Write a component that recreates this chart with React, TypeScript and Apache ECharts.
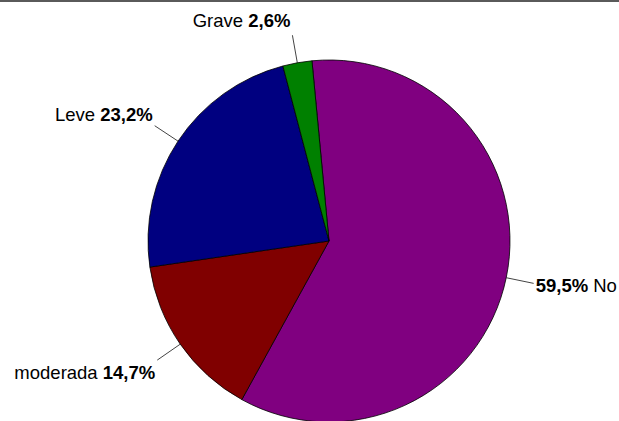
import React, { useEffect, useRef } from "react";
import * as echarts from "echarts";

const categories = ["No", "moderada", "Leve", "Grave"];
const values = [59.5, 14.7, 23.2, 2.6];
const colors = ["#800080", "#800000", "#000080", "#008000"];
// label padding to shift text relative to label-line end [top, right, bottom, left]
const labelPads = [
  [5, 0, 0, 0],
  [24, 0, 0, 0],
  [0, 0, 22, 0],
  [0, 0, 30, 0],
];

const fmt = (v: number) => v.toFixed(1).replace(".", ",") + "%";
const FONT = "Liberation Sans, Arial, sans-serif";
const FS = 18.5;

export default function App() {
  const ref = useRef<HTMLDivElement>(null);
  useEffect(() => {
    if (!ref.current) return;
    const chart = echarts.init(ref.current, null, { renderer: "svg" });
    const data = categories.map((name, i) => ({
      name,
      value: values[i],
      itemStyle: { color: colors[i] },
      label: {
        padding: labelPads[i],
        formatter:
          i === 0
            ? `{b|${fmt(values[i])}} {n|${name}}`
            : `{n|${name}} {b|${fmt(values[i])}}`,
      },
    }));
    chart.setOption({
      animation: false,
      backgroundColor: "#ffffff",
      graphic: [
        {
          type: "rect",
          left: 0,
          top: 0,
          shape: { width: 619, height: 2 },
          style: { fill: "#5a5a5a" },
          silent: true,
        },
      ],
      series: [
        {
          type: "pie",
          center: [329, 241],
          radius: 181,
          startAngle: 95.4,
          clockwise: true,
          avoidLabelOverlap: false,
          data,
          itemStyle: { borderColor: "#000000", borderWidth: 0.8 },
          label: {
            show: true,
            position: "outside",
            distanceToLabelLine: 2,
            color: "#000000",
            fontFamily: FONT,
            fontSize: FS,
            rich: {
              n: { fontFamily: FONT, fontSize: FS, color: "#000000" },
              b: {
                fontFamily: FONT,
                fontSize: FS,
                fontWeight: "bold",
                color: "#000000",
              },
            },
          },
          labelLine: {
            show: true,
            length: 28,
            length2: 0,
            smooth: false,
            lineStyle: { color: "#444444", width: 1 },
          },
          emphasis: { disabled: true },
        },
      ],
    });
    return () => chart.dispose();
  }, []);
  return (
    <div
      ref={ref}
      style={{ position: "fixed", left: 0, top: 0, width: 619, height: 421 }}
    />
  );
}
